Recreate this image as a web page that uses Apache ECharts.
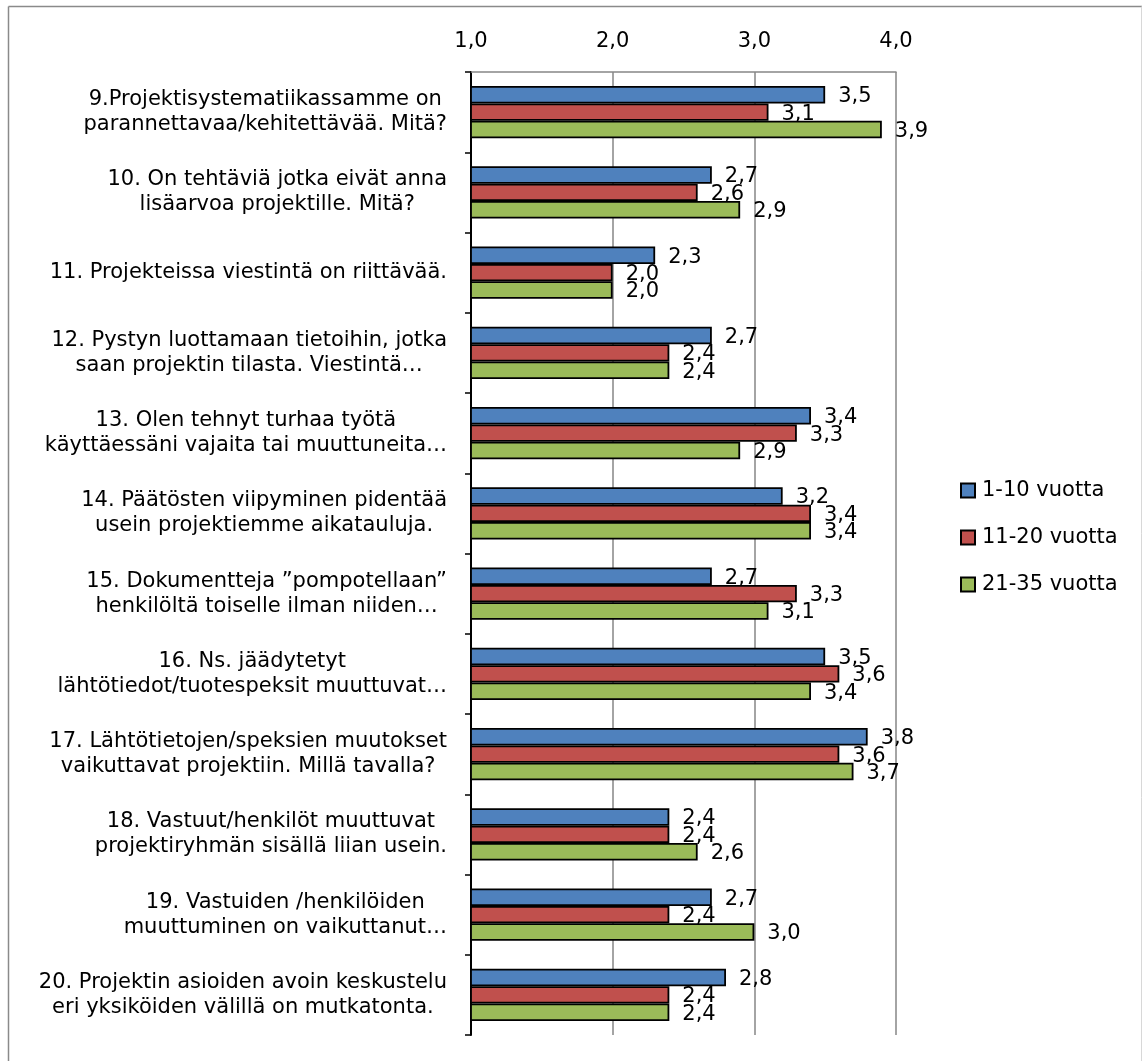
<!DOCTYPE html>
<html>
<head>
<meta charset="utf-8">
<script src="https://cdn.jsdelivr.net/npm/echarts@6/dist/echarts.min.js"></script>
<style>
  html, body { margin: 0; padding: 0; background: #fff; }
  #chart { width: 1142px; height: 1061px; }
</style>
</head>
<body>
<div id="chart"></div>
<script>
// Survey questions (each entry is the lines of its axis label)
const questions = [
  ['9.Projektisystematiikassamme on', 'parannettavaa/kehitettävää. Mitä?'],
  ['10. On tehtäviä jotka eivät anna', 'lisäarvoa projektille. Mitä?'],
  ['11. Projekteissa viestintä on riittävää.'],
  ['12. Pystyn luottamaan tietoihin, jotka', 'saan projektin tilasta. Viestintä…'],
  ['13. Olen tehnyt turhaa työtä', 'käyttäessäni vajaita tai muuttuneita…'],
  ['14. Päätösten viipyminen pidentää', 'usein projektiemme aikatauluja.'],
  ['15. Dokumentteja ”pompotellaan”', 'henkilöltä toiselle ilman niiden…'],
  ['16. Ns. jäädytetyt', 'lähtötiedot/tuotespeksit muuttuvat…'],
  ['17. Lähtötietojen/speksien muutokset', 'vaikuttavat projektiin. Millä tavalla?'],
  ['18. Vastuut/henkilöt muuttuvat', 'projektiryhmän sisällä liian usein.'],
  ['19. Vastuiden /henkilöiden', 'muuttuminen on vaikuttanut…'],
  ['20. Projektin asioiden avoin keskustelu', 'eri yksiköiden välillä on mutkatonta.']
];

// Mean answers per experience group
const group1to10  = [3.5, 2.7, 2.3, 2.7, 3.4, 3.2, 2.7, 3.5, 3.8, 2.4, 2.7, 2.8];
const group11to20 = [3.1, 2.6, 2.0, 2.4, 3.3, 3.4, 3.3, 3.6, 3.6, 2.4, 2.4, 2.4];
const group21to35 = [3.9, 2.9, 2.0, 2.4, 2.9, 3.4, 3.1, 3.4, 3.7, 2.6, 3.0, 2.4];

const seriesNames = ['1-10 vuotta', '11-20 vuotta', '21-35 vuotta'];
const seriesColors = ['#4F81BD', '#C0504D', '#9BBB59'];

// Value axis range
const axisMin = 1;
const axisMax = 4;
const axisStep = 1;

const FONT = '"DejaVu Sans", sans-serif';
const fmt = v => Number(v).toFixed(1).replace('.', ',');

const categories = questions.map(q => q.join('\n'));

function barSeries(name, data, color) {
  return {
    name: name,
    type: 'bar',
    data: data,
    barGap: '0%',
    barCategoryGap: '35%',
    itemStyle: { color: color, borderColor: '#000', borderWidth: 1.8 },
    label: {
      show: true,
      position: 'right',
      distance: 13,
      offset: [0, 2],
      color: '#000',
      fontFamily: FONT,
      fontSize: 21,
      formatter: p => fmt(p.value)
    }
  };
}

const chart = echarts.init(document.getElementById('chart'), null, { renderer: 'canvas' });

chart.setOption({
  backgroundColor: '#fff',
  animation: false,
  textStyle: { fontFamily: FONT },
  graphic: [
    // outer frame
    { type: 'line', shape: { x1: 8.5, y1: 6.5, x2: 8.5, y2: 1061 }, style: { stroke: '#8a8a8a', lineWidth: 1.5 } },
    { type: 'line', shape: { x1: 8.5, y1: 6.5, x2: 1142, y2: 6.5 }, style: { stroke: '#8a8a8a', lineWidth: 1.5 } },
    { type: 'line', shape: { x1: 1141.5, y1: 6.5, x2: 1141.5, y2: 1061 }, style: { stroke: '#d8d8d8', lineWidth: 1 } }
  ],
  grid: { left: 471, right: 246, top: 72, bottom: 26, containLabel: false },
  legend: {
    orient: 'vertical',
    left: 955,
    top: 475,
    itemWidth: 14,
    itemHeight: 14,
    itemGap: 26,
    icon: 'rect',
    textStyle: { fontFamily: FONT, fontSize: 21, color: '#000', lineHeight: 21, padding: [0, 0, 0, 2] },
    data: seriesNames
  },
  xAxis: {
    type: 'value',
    position: 'top',
    min: axisMin,
    max: axisMax,
    interval: axisStep,
    axisLine: { show: true, lineStyle: { color: '#868686', width: 1.5 } },
    axisTick: { show: false },
    axisLabel: { color: '#000', fontFamily: FONT, fontSize: 21, margin: 20, formatter: v => fmt(v) },
    splitLine: { show: true, lineStyle: { color: '#868686', width: 1.5 } }
  },
  yAxis: {
    type: 'category',
    inverse: true,
    data: categories,
    axisLine: { show: true, lineStyle: { color: '#000', width: 2 } },
    axisTick: { show: true, length: 6, lineStyle: { color: '#000', width: 1.5 } },
    axisLabel: {
      color: '#000',
      fontFamily: FONT,
      fontSize: 21,
      lineHeight: 25,
      margin: 24,
      formatter: v => v.split('\n').map(l => '{c|' + l + '}').join('\n'),
      rich: { c: { align: 'center', fontFamily: FONT, fontSize: 21, lineHeight: 25, color: '#000' } }
    }
  },
  series: [
    barSeries(seriesNames[0], group1to10, seriesColors[0]),
    barSeries(seriesNames[1], group11to20, seriesColors[1]),
    barSeries(seriesNames[2], group21to35, seriesColors[2])
  ]
});
</script>
</body>
</html>
